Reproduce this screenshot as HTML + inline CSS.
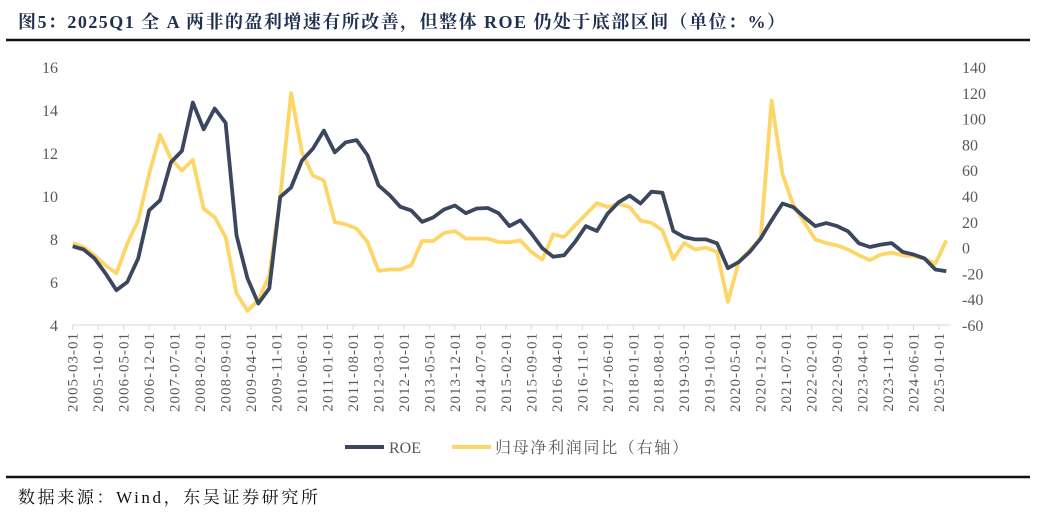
<!DOCTYPE html>
<html><head><meta charset="utf-8">
<style>
body{margin:0;background:#fff;width:1048px;height:514px;overflow:hidden;font-family:"Liberation Serif","Noto Serif CJK SC",serif;}
</style></head>
<body>
<svg width="1048" height="514" xmlns="http://www.w3.org/2000/svg">
<text x="18" y="28" font-size="18" font-weight="bold" fill="#1f3050" textLength="767" lengthAdjust="spacing" font-family="Liberation Serif, Noto Serif CJK SC, serif">图5：2025Q1 全 A 两非的盈利增速有所改善，但整体 ROE 仍处于底部区间（单位：%）</text>
<line x1="6" y1="40" x2="1030" y2="40" stroke="#111" stroke-width="2.5"/>
<g id="axes"></g>
<g id="series"></g>
<g>
<line x1="345" y1="447" x2="384" y2="447" stroke="#3a475f" stroke-width="4"/>
<text x="389" y="453" font-size="16" fill="#595959">ROE</text>
<line x1="452" y1="447" x2="491" y2="447" stroke="#fdd667" stroke-width="4"/>
<text x="495" y="453" font-size="16" fill="#595959" textLength="193" lengthAdjust="spacing" font-family="Liberation Serif, Noto Serif CJK SC, serif">归母净利润同比（右轴）</text>
</g>
<line x1="6" y1="477" x2="1030" y2="477" stroke="#111" stroke-width="2.5"/>
<text x="18" y="503" font-size="17" fill="#111" textLength="300" lengthAdjust="spacing" font-family="Liberation Serif, Noto Serif CJK SC, serif">数据来源：Wind，东吴证券研究所</text>
</svg>
<script>
const roe=[7.66,7.51,7.1,6.4,5.62,6.0,7.1,9.33,9.8,11.57,12.1,14.35,13.1,14.07,13.4,8.17,6.18,5.0,5.7,9.95,10.4,11.65,12.2,13.04,12.03,12.5,12.6,11.9,10.5,10.05,9.5,9.33,8.8,9.0,9.37,9.56,9.2,9.42,9.44,9.2,8.6,
8.87,8.26,7.57,7.17,7.24,7.86,8.6,8.37,9.19,9.71,10.02,9.65,10.2,10.15,8.37,8.09,7.98,7.98,7.8,6.64,6.93,7.4,8.03,8.87,9.65,9.48,9.02,8.6,8.74,8.6,8.36,7.8,7.63,7.74,7.81,7.4,7.28,7.1,6.58,6.5];
const profit=[3.5,0.5,-6,-13.7,-20,3.1,21,57,87.5,68.7,59.7,68,30,23.6,8.2,-35.5,-49,-40.7,-21.4,39,119.7,73.8,55.8,52,19.8,18,14.7,4.3,-18,-17,-17,-13.7,5.1,5.1,11.3,12.8,7,7,7,4.3,4.3,
5.6,-3.4,-9.3,10.3,8.2,17.2,25.7,34.4,31.4,34,31.4,21,19.2,13.4,-9,3.6,-1.5,0,-3.4,-42,-11,-2,7,114,57,32.7,19.8,6.2,3.5,1.8,-1.5,-6,-9.8,-5.4,-3.9,-6,-6.5,-8.5,-12.4,5.6];
const leftTicks=[4,6,8,10,12,14,16];
const rightTicks=[-60,-40,-20,0,20,40,60,80,100,120,140];
const startYear=2005,startMonth=3;
const NS="http://www.w3.org/2000/svg";
const X0=72.7,PXM=3.64,YT=67,YB=325;
function xm(m){return X0+m*PXM;}
function yL(v){return YB-(v-4)/12*(YB-YT);}
function yR(v){return YB-(v+60)/200*(YB-YT);}
function mk(tag,attrs,parent){const e=document.createElementNS(NS,tag);for(const k in attrs)e.setAttribute(k,attrs[k]);parent.appendChild(e);return e;}
const ax=document.getElementById('axes'),se=document.getElementById('series');
const axisLine=mk('line',{x1:X0,y1:YB,x2:951,y2:YB,stroke:'#d9d9d9','stroke-width':1},ax);


leftTicks.forEach(v=>{const t=mk('text',{x:58,y:yL(v)+6,'font-size':16,fill:'#595959','text-anchor':'end'},ax);t.textContent=v;

});
rightTicks.forEach(v=>{const t=mk('text',{x:962,y:yR(v)+6,'font-size':16,fill:'#595959'},ax);t.textContent=v;

});
for(let m=0;m<=238;m+=7){
 const x=xm(m);
 const tk=mk('line',{x1:x,y1:YB,x2:x,y2:YB+5,stroke:'#d9d9d9'},ax);
 
 
 const tot=startMonth-1+m;const yr=startYear+Math.floor(tot/12);const mo=tot%12+1;
 const lbl=yr+'-'+String(mo).padStart(2,'0')+'-01';
 const t=mk('text',{x:0,y:0,'font-size':15,fill:'#595959','text-anchor':'end',transform:`translate(${x+5},332) rotate(-90)`,'letter-spacing':'1'},ax);
 t.textContent=lbl;
 
 
}
function line(arr,yf,color,name){
 const d=arr.map((v,i)=>(i?'L':'M')+xm(i*3).toFixed(1)+' '+yf(v).toFixed(1)).join(' ');
 const p=mk('path',{d:d,fill:'none',stroke:color,'stroke-width':3.8,'stroke-linejoin':'round'},se);
 
 
}
line(profit,yR,'#fdd667','profit-growth-line');
line(roe,yL,'#3a475f','roe-line');
</script>
</body></html>
